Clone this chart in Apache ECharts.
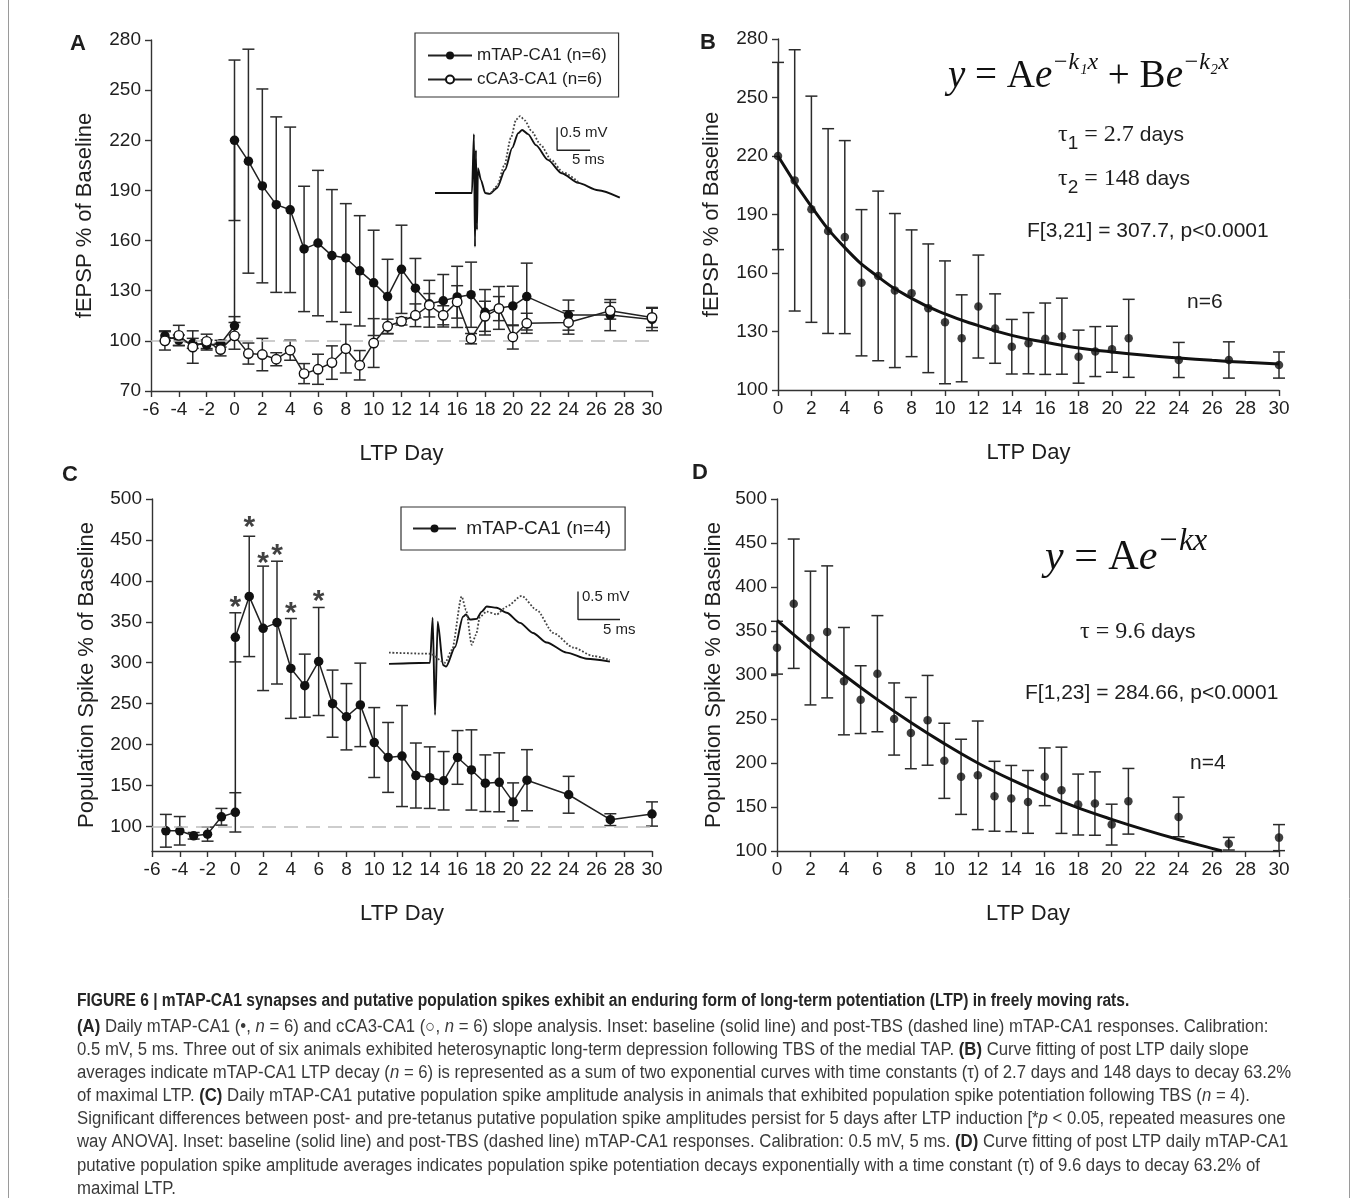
<!DOCTYPE html>
<html>
<head>
<meta charset="utf-8">
<title>Figure 6</title>
<script src="https://cdn.jsdelivr.net/npm/echarts@6.0.0/dist/echarts.min.js"></script>
<style>
  html, body { margin: 0; padding: 0; background: #fff; }
  #fig { width: 1354px; height: 1198px; }
</style>
</head>
<body>
<div id="fig"></div>
<script>
const SANS = '"Liberation Sans", Arial, Helvetica, sans-serif';
const SERIF = '"Liberation Serif", "Times New Roman", serif';
const INK = '#1e1e1e';

// ---- A / B : fEPSP slope, mTAP-CA1 (day 0 twice: pre and post TBS)
const slopeDays = [-5, -4, -3, -2, -1, 0, 0, 1, 2, 3, 4, 5, 6, 7, 8, 9, 10, 11, 12, 13, 14, 15, 16, 17, 18, 19, 20, 21, 24, 27, 30];
const slopeMean = [103, 100.3, 98.5, 97.5, 98.3, 109, 220, 207.5, 192.7, 181.5, 178.4, 155, 158.5, 151, 149.6, 141.9, 134.7, 126.5, 142.8, 131.5, 122.2, 124, 126.3, 127.6, 117.1, 119.7, 120.9, 126.5, 115.4, 115.4, 112.8];
const slopeErr = [3, 3.2, 3, 3, 2, 5.5, 48, 67, 58, 52.5, 49.5, 37.5, 43.5, 39.5, 32.5, 33, 31.5, 22.3, 26.4, 17.8, 14, 15.7, 18.3, 19.5, 13.6, 12.8, 11.8, 20, 9, 9.3, 6.7];

// cCA3-CA1 control pathway
const cca3Days = [-5, -4, -3, -2, -1, 0, 1, 2, 3, 4, 5, 6, 7, 8, 9, 10, 11, 12, 13, 14, 15, 16, 17, 18, 19, 20, 21, 24, 27, 30];
const cca3Mean = [100, 103.3, 96.3, 99.7, 94.8, 103, 92.4, 91.8, 89, 94.4, 80.4, 83, 87, 95.3, 85.4, 98.7, 108.7, 111.7, 115.3, 121.3, 115.3, 123.3, 101.3, 114.7, 119.3, 102.3, 110.5, 111, 118, 114];
const cca3Err = [5.5, 6, 9.7, 4.3, 3.8, 8, 6.3, 9.7, 3.9, 6, 6, 9, 10, 14.5, 8.8, 14.6, 4.3, 2.2, 6.8, 7, 5.7, 9.7, 3.1, 9, 7.2, 7.2, 6, 7, 5, 6];

// B fitted curve
const fitBDays = [0, 2, 4, 6, 8, 10, 12, 14, 16, 18, 20, 22, 24, 26, 28, 30];
const fitBVals = [220, 194, 173, 158, 147, 139, 133, 128, 124.5, 121.5, 119.5, 117.8, 116.4, 115.2, 114.2, 113.3];

// ---- C / D : population spike
const spikeDays = [-5, -4, -3, -2, -1, 0, 0, 1, 2, 3, 4, 5, 6, 7, 8, 9, 10, 11, 12, 13, 14, 15, 16, 17, 18, 19, 20, 21, 24, 27, 30];
const spikeMean = [94.7, 94.7, 88.6, 90.6, 111.8, 117.2, 331, 381, 342, 349, 293, 272, 301.5, 250, 234, 248.5, 202.5, 184.3, 186, 162.2, 159.6, 155.8, 184.3, 169, 152.8, 153.9, 130, 156.5, 138.7, 108.3, 115.2];
const spikeErr = [20, 17.4, 4, 8.6, 10.2, 24, 30, 73.5, 76, 75, 61, 38.5, 66, 41, 40.5, 51, 42.7, 42.7, 61.7, 39.7, 37.6, 35.7, 32.8, 49, 34.6, 36, 23.2, 37.3, 22.5, 7.2, 14.8];
const starDays = [0, 1, 2, 3, 4, 6];
const starY = [376, 473, 430, 439, 368, 383];

const fitDDays = [0, 2, 4, 6, 8, 10, 12, 14, 16, 18, 20, 22, 24, 26, 26.6];
const fitDVals = [362, 330, 300, 272, 246, 222, 200, 181, 164, 149, 136, 124, 113, 103, 100];

// tick labels
const yTicksA = [70, 100, 130, 160, 190, 220, 250, 280];
const yTicksB = [100, 130, 160, 190, 220, 250, 280];
const yTicksC = [100, 150, 200, 250, 300, 350, 400, 450, 500];

// insets: [ms, mV]
const insetASolid = [[0, 0], [5.6, 0], [5.9, 1.28], [6.06, -1.17], [6.2, 0.93], [6.36, -0.8], [6.5, 0.54], [6.97, 0.28], [7.6, 0], [8.3, -0.02], [9.4, 0.11], [10.6, 0.5], [11.7, 0.98], [12.6, 1.3], [13.2, 1.37], [14.1, 1.28], [15.3, 1.04], [17.1, 0.72], [19.2, 0.43], [21.7, 0.22], [24.7, 0.06], [28, -0.1]];
const insetADotted = [[8.5, 0], [9.4, 0.15], [10.5, 0.6], [11.5, 1.2], [12.3, 1.6], [12.9, 1.67], [13.6, 1.58], [14.6, 1.35], [16, 1.05], [17.6, 0.72], [19.4, 0.45], [21.7, 0.24]];
const calA = [[18.5, 1.43], [18.5, 0.93], [23.5, 0.93]];

const insetCSolid = [[0, 0], [4.88, 0.02], [5.2, 0.82], [5.48, -0.91], [5.8, 0.75], [6.43, -0.02], [6.79, -0.05], [7.86, 0.3], [8.81, 0.84], [9.17, 0.88], [9.64, 0.79], [10.44, 0.8], [11.04, 0.93], [11.63, 1.02], [12.82, 1.0], [14.01, 0.91], [15.6, 0.73], [17.14, 0.55], [18.77, 0.38], [21.15, 0.2], [23.54, 0.09], [26.3, 0.04]];
const insetCDotted = [[0, 0.2], [4.88, 0.18], [6.67, 0.02], [7.5, 0.25], [8.65, 1.2], [9.17, 0.96], [9.85, 0.34], [10.36, 0.52], [10.83, 0.84], [11.63, 0.93], [12.82, 0.88], [14.01, 1.02], [15.8, 1.21], [17.58, 0.96], [19.56, 0.55], [21.94, 0.29], [24.32, 0.14], [26.3, 0.07]];
const calC = [[22.5, 1.29], [22.5, 0.79], [27.5, 0.79]];

// caption
const captionTitle = 'FIGURE 6 | mTAP-CA1 synapses and putative population spikes exhibit an enduring form of long-term potentiation (LTP) in freely moving rats.';
const captionLines = [
  '{b|(A)} Daily mTAP-CA1 (•, {i|n} = 6) and cCA3-CA1 (○, {i|n} = 6) slope analysis. Inset: baseline (solid line) and post-TBS (dashed line) mTAP-CA1 responses. Calibration:',
  '0.5 mV, 5 ms. Three out of six animals exhibited heterosynaptic long-term depression following TBS of the medial TAP. {b|(B)} Curve fitting of post LTP daily slope',
  'averages indicate mTAP-CA1 LTP decay ({i|n} = 6) is represented as a sum of two exponential curves with time constants (τ) of 2.7 days and 148 days to decay 63.2%',
  'of maximal LTP. {b|(C)} Daily mTAP-CA1 putative population spike amplitude analysis in animals that exhibited population spike potentiation following TBS ({i|n} = 4).',
  'Significant differences between post- and pre-tetanus putative population spike amplitudes persist for 5 days after LTP induction [*{i|p} < 0.05, repeated measures one',
  'way ANOVA]. Inset: baseline (solid line) and post-TBS (dashed line) mTAP-CA1 responses. Calibration: 0.5 mV, 5 ms. {b|(D)} Curve fitting of post LTP daily mTAP-CA1',
  'putative population spike amplitude averages indicates population spike potentiation decays exponentially with a time constant (τ) of 9.6 days to decay 63.2% of',
  'maximal LTP.'
];

const postDays = slopeDays.slice(6), postMean = slopeMean.slice(6), postErr = slopeErr.slice(6);
const psPostDays = spikeDays.slice(6), psPostMean = spikeMean.slice(6), psPostErr = spikeErr.slice(6);

function pairs(xs, ys) { return xs.map((x, i) => [x, ys[i]]); }
function bars(xs, ys, es) { return xs.map((x, i) => [x, ys[i] - es[i], ys[i] + es[i]]); }

function errorBarSeries(idx, xs, ys, es, cap) {
  return {
    type: 'custom', xAxisIndex: idx, yAxisIndex: idx, z: 2, silent: true,
    encode: { x: 0, y: [1, 2] },
    data: bars(xs, ys, es),
    renderItem: function (params, api) {
      const x = api.value(0);
      const lo = api.coord([x, api.value(1)]);
      const hi = api.coord([x, api.value(2)]);
      const st = { stroke: '#2b2b2b', lineWidth: 1.5 };
      return { type: 'group', children: [
        { type: 'line', shape: { x1: lo[0], y1: lo[1], x2: hi[0], y2: hi[1] }, style: st },
        { type: 'line', shape: { x1: hi[0] - cap, y1: hi[1], x2: hi[0] + cap, y2: hi[1] }, style: st },
        { type: 'line', shape: { x1: lo[0] - cap, y1: lo[1], x2: lo[0] + cap, y2: lo[1] }, style: st }
      ]};
    }
  };
}

const baseline100 = {
  silent: true, symbol: 'none', label: { show: false },
  lineStyle: { color: '#bdbdbd', type: [14, 8], width: 1.6 },
  data: [{ yAxis: 100 }]
};

function xAxisOf(idx, min, max) {
  return {
    type: 'value', gridIndex: idx, min: min, max: max, interval: 2,
    name: 'LTP Day', nameLocation: 'middle', nameGap: 52,
    nameTextStyle: { fontFamily: SANS, fontSize: 22, color: INK },
    axisLine: { show: true, onZero: false, lineStyle: { color: '#333', width: 1.4 } },
    axisTick: { show: true, length: 6, lineStyle: { color: '#333', width: 1.4 } },
    axisLabel: { fontFamily: SANS, fontSize: 19, color: INK, margin: 9 },
    splitLine: { show: false }
  };
}
function yAxisOf(idx, min, max, ticks, name, gap) {
  return {
    type: 'value', gridIndex: idx, min: min, max: max,
    name: name, nameLocation: 'middle', nameRotate: 90, nameGap: gap,
    nameTextStyle: { fontFamily: SANS, fontSize: 22, color: INK },
    axisLine: { show: true, onZero: false, lineStyle: { color: '#333', width: 1.4 } },
    axisTick: { show: true, length: 6, customValues: ticks, lineStyle: { color: '#333', width: 1.4 } },
    axisLabel: { fontFamily: SANS, fontSize: 19, color: INK, margin: 10, customValues: ticks },
    splitLine: { show: false }
  };
}
function hiddenAxis(idx, min, max) {
  return { type: 'value', gridIndex: idx, min: min, max: max, show: false, splitLine: { show: false } };
}
function traceSeries(idx, data, dotted) {
  return {
    type: 'line', xAxisIndex: idx, yAxisIndex: idx, data: data, symbol: 'none', silent: true,
    smooth: 0.25, smoothMonotone: 'x', z: 3,
    lineStyle: { color: dotted ? '#444' : '#111', width: dotted ? 1.8 : 1.9, type: dotted ? 'dotted' : 'solid' }
  };
}
function calSeries(idx, data) {
  return { type: 'line', xAxisIndex: idx, yAxisIndex: idx, data: data, symbol: 'none', silent: true,
    lineStyle: { color: '#222', width: 1.4 } };
}

const series = [
  // A
  Object.assign(errorBarSeries(0, slopeDays, slopeMean, slopeErr, 6), { markLine: baseline100, z: 1 }),
  errorBarSeries(0, cca3Days, cca3Mean, cca3Err, 6),
  { type: 'line', name: 'mTAP-CA1 (n=6)', xAxisIndex: 0, yAxisIndex: 0, data: pairs(slopeDays, slopeMean),
    symbol: 'circle', symbolSize: 9.5, z: 4, itemStyle: { color: '#111' }, lineStyle: { color: '#222', width: 1.5 } },
  { type: 'line', name: 'cCA3-CA1 (n=6)', xAxisIndex: 0, yAxisIndex: 0, data: pairs(cca3Days, cca3Mean),
    symbol: 'circle', symbolSize: 9.5, z: 5, itemStyle: { color: '#fff', borderColor: '#111', borderWidth: 1.4 },
    lineStyle: { color: '#222', width: 1.5 } },
  // B
  errorBarSeries(1, postDays, postMean, postErr, 6),
  { type: 'scatter', xAxisIndex: 1, yAxisIndex: 1, data: pairs(postDays, postMean), symbolSize: 8.5, z: 4,
    itemStyle: { color: '#111' } },
  { type: 'line', xAxisIndex: 1, yAxisIndex: 1, data: pairs(fitBDays, fitBVals), symbol: 'none', smooth: 0.5,
    z: 5, lineStyle: { color: '#111', width: 3 } },
  // C
  Object.assign(errorBarSeries(2, spikeDays, spikeMean, spikeErr, 6), { markLine: baseline100, z: 1 }),
  { type: 'line', name: 'mTAP-CA1 (n=4)', xAxisIndex: 2, yAxisIndex: 2, data: pairs(spikeDays, spikeMean),
    symbol: 'circle', symbolSize: 9.5, z: 4, itemStyle: { color: '#111' }, lineStyle: { color: '#222', width: 1.5 } },
  { type: 'scatter', xAxisIndex: 2, yAxisIndex: 2, data: pairs(starDays, starY), symbolSize: 1, silent: true,
    itemStyle: { color: 'rgba(0,0,0,0)' },
    label: { show: true, position: 'inside', formatter: '*', fontFamily: SANS, fontSize: 30, fontWeight: 'bold',
      color: '#111', offset: [0, 7] } },
  // D
  errorBarSeries(3, psPostDays, psPostMean, psPostErr, 6),
  { type: 'scatter', xAxisIndex: 3, yAxisIndex: 3, data: pairs(psPostDays, psPostMean), symbolSize: 8.5, z: 4,
    itemStyle: { color: '#111' } },
  { type: 'line', xAxisIndex: 3, yAxisIndex: 3, data: pairs(fitDDays, fitDVals), symbol: 'none', smooth: 0.4,
    z: 5, lineStyle: { color: '#111', width: 3 } },
  // insets
  traceSeries(4, insetASolid, false),
  traceSeries(4, insetADotted, true),
  calSeries(4, calA),
  traceSeries(5, insetCSolid, false),
  traceSeries(5, insetCDotted, true),
  calSeries(5, calC)
];

function txt(x, y, text, font, align, vAlign, extra) {
  return { type: 'text', silent: true, style: Object.assign({ text: text, x: x, y: y, font: font, fill: INK,
    align: align || 'left', verticalAlign: vAlign || 'middle' }, extra || {}) };
}

// rich styles for the fitted equations: main glyphs sit on the line bottom, exponents hang from its top
function eqRich(mainSize, supSize, lineH) {
  const main = mainSize + 'px ' + SERIF;
  return {
    i: { font: 'italic ' + main, fill: '#111', lineHeight: lineH, verticalAlign: 'bottom' },
    n: { font: main, fill: '#111', lineHeight: lineH, verticalAlign: 'bottom' },
    s: { font: 'italic ' + supSize + 'px ' + SERIF, fill: '#111', lineHeight: lineH, verticalAlign: 'top' }
  };
}
const tauRich = {
  t: { font: '24px ' + SERIF, fill: INK, lineHeight: 30, verticalAlign: 'top' },
  u: { font: '19px ' + SANS, fill: INK, lineHeight: 30, verticalAlign: 'bottom' },
  a: { font: '21px ' + SANS, fill: INK, lineHeight: 30, verticalAlign: 'top', padding: [2, 0, 0, 0] }
};

const graphics = [
  { type: 'line', silent: true, shape: { x1: 8.5, y1: 0, x2: 8.5, y2: 1198 }, style: { stroke: '#9a9a9a', lineWidth: 1 } },
  { type: 'line', silent: true, shape: { x1: 1349.5, y1: 0, x2: 1349.5, y2: 1198 }, style: { stroke: '#9a9a9a', lineWidth: 1 } },
  txt(78, 44, 'A', 'bold 22px ' + SANS, 'center'),
  txt(708, 43, 'B', 'bold 22px ' + SANS, 'center'),
  txt(70, 475, 'C', 'bold 22px ' + SANS, 'center'),
  txt(700, 473, 'D', 'bold 22px ' + SANS, 'center'),
  // inset calibration labels
  txt(560, 133, '0.5 mV', '15px ' + SANS),
  txt(572, 160, '5 ms', '15px ' + SANS),
  txt(582, 597, '0.5 mV', '15px ' + SANS),
  txt(603, 630, '5 ms', '15px ' + SANS),
  // B annotations
  txt(948, 51, '{i|y}{n| = A}{i|e}{s|−k₁x}{n| + B}{i|e}{s|−k₂x}', '39px ' + SERIF, 'left', 'top', { rich: eqRich(39, 24, 45) }),
  txt(1058, 123, '{t|τ}{u|1}{t| = 2.7 }{a|days}', '24px ' + SERIF, 'left', 'top', { rich: tauRich }),
  txt(1058, 167, '{t|τ}{u|2}{t| = 148 }{a|days}', '24px ' + SERIF, 'left', 'top', { rich: tauRich }),
  txt(1027, 231, 'F[3,21] = 307.7, p<0.0001', '21px ' + SANS),
  txt(1187, 302, 'n=6', '21px ' + SANS),
  // D annotations
  txt(1045, 526, '{i|y}{n| = A}{i|e}{s|−kx}', '42px ' + SERIF, 'left', 'top', { rich: eqRich(42, 32, 53) }),
  txt(1080, 620, '{t|τ = 9.6 }{a|days}', '24px ' + SERIF, 'left', 'top', { rich: tauRich }),
  txt(1025, 693, 'F[1,23] = 284.66, p<0.0001', '21px ' + SANS),
  txt(1190, 763, 'n=4', '21px ' + SANS)
];

// caption block
const capFont = '18px ' + SANS;
graphics.push({ type: 'text', silent: true, x: 77, y: 1001, scaleX: 0.865,
  style: { text: captionTitle, x: 0, y: 0, font: 'bold ' + capFont, fill: '#262626', align: 'left', verticalAlign: 'middle' } });
captionLines.forEach(function (line, i) {
  graphics.push({ type: 'text', silent: true, x: 77, y: 1027 + i * 23.1, scaleX: 0.93,
    style: { text: line, x: 0, y: 0, font: capFont, fill: '#3a3a3a', align: 'left', verticalAlign: 'middle',
      rich: {
        b: { font: 'bold ' + capFont, fill: '#262626' },
        i: { font: 'italic ' + capFont, fill: '#3a3a3a' }
      } } });
});

const option = {
  animation: false,
  backgroundColor: '#fff',
  grid: [
    { left: 151, top: 40, width: 501, height: 351, outerBoundsMode: 'none' },
    { left: 778, top: 39, width: 501, height: 351, outerBoundsMode: 'none' },
    { left: 152, top: 499, width: 500, height: 352, outerBoundsMode: 'none' },
    { left: 777, top: 499, width: 502, height: 352, outerBoundsMode: 'none' },
    { left: 435, top: 101, width: 198, height: 161, outerBoundsMode: 'none' },
    { left: 389, top: 574, width: 252, height: 146, outerBoundsMode: 'none' }
  ],
  xAxis: [
    xAxisOf(0, -6, 30), xAxisOf(1, 0, 30), xAxisOf(2, -6, 30), xAxisOf(3, 0, 30),
    hiddenAxis(4, 0, 30), hiddenAxis(5, 0, 30)
  ],
  yAxis: [
    yAxisOf(0, 70, 280, yTicksA, 'fEPSP % of Baseline', 55),
    yAxisOf(1, 100, 280, yTicksB, 'fEPSP % of Baseline', 55),
    yAxisOf(2, 70, 500, yTicksC, 'Population Spike % of Baseline', 54),
    yAxisOf(3, 100, 500, yTicksC, 'Population Spike % of Baseline', 52),
    hiddenAxis(4, -1.5, 2.0), hiddenAxis(5, -1.0, 1.6)
  ],
  legend: [
    { data: ['mTAP-CA1 (n=6)', 'cCA3-CA1 (n=6)'], orient: 'vertical', left: 415, top: 33,
      padding: [14, 12, 9, 12], itemGap: 7, itemWidth: 44, itemHeight: 10,
      borderColor: '#333', borderWidth: 1.2, selectedMode: false,
      textStyle: { fontFamily: SANS, fontSize: 17, color: INK } },
    { data: ['mTAP-CA1 (n=4)'], orient: 'vertical', left: 401, top: 507,
      padding: [12, 14, 12, 11], itemWidth: 43, itemHeight: 10,
      borderColor: '#333', borderWidth: 1.2, selectedMode: false,
      formatter: function (name) { return ' ' + name; },
      textStyle: { fontFamily: SANS, fontSize: 19, color: INK } }
  ],
  series: series,
  graphic: graphics
};

const chart = echarts.init(document.getElementById('fig'));
chart.setOption(option);
</script>
</body>
</html>
